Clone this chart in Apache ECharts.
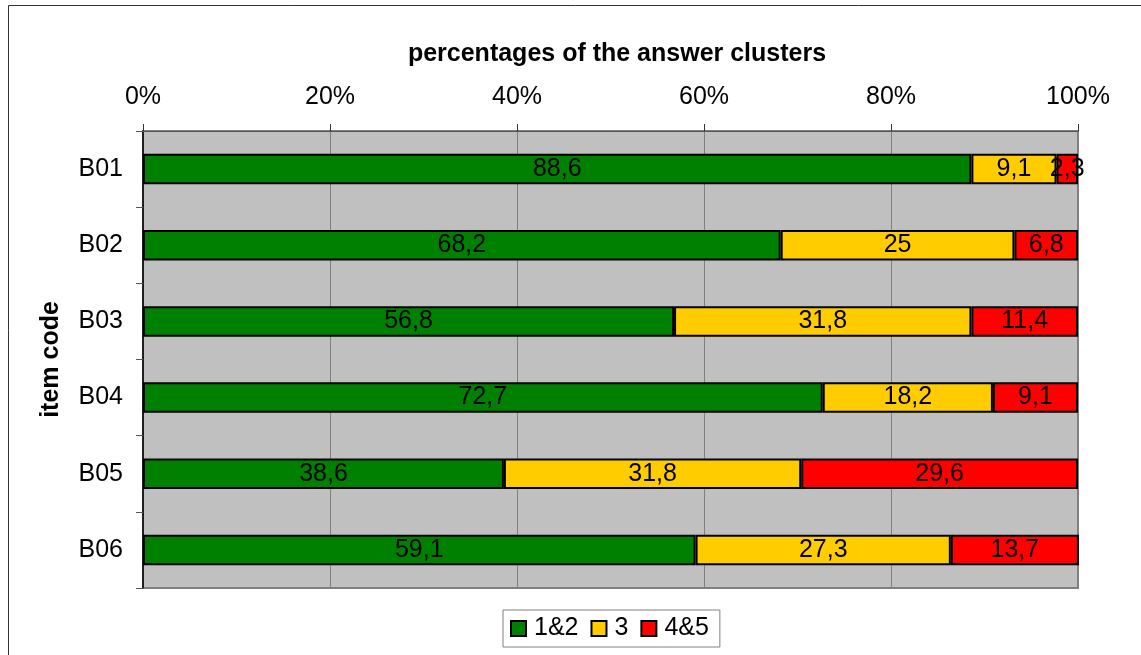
<!DOCTYPE html>
<html>
<head>
<meta charset="utf-8">
<script src="https://cdn.jsdelivr.net/npm/echarts@6/dist/echarts.min.js"></script>
<style>
  html, body { margin: 0; padding: 0; background: #fff; }
  #chart { width: 1141px; height: 655px; }
</style>
</head>
<body>
<div id="chart"></div>
<script>
// Item codes, top to bottom
const items = ['B01', 'B02', 'B03', 'B04', 'B05', 'B06'];
// Share of each answer cluster per item (%)
const cluster12 = [88.6, 68.2, 56.8, 72.7, 38.6, 59.1];
const cluster3 = [9.1, 25, 31.8, 18.2, 31.8, 27.3];
const cluster45 = [2.3, 6.8, 11.4, 9.1, 29.6, 13.7];
const seriesNames = ['1&2', '3', '4&5'];
const xTicks = [0, 20, 40, 60, 80, 100];

const FONT = '"Liberation Sans", Arial, sans-serif';

function decimalComma(v) {
  return String(v).replace('.', ',');
}

function barSeries(name, data, color) {
  return {
    name: name,
    type: 'bar',
    stack: 'total',
    barWidth: '40%',
    data: data,
    itemStyle: { color: color, borderColor: '#000', borderWidth: 2 },
    label: {
      show: true,
      position: 'inside',
      color: '#000',
      fontFamily: FONT,
      fontSize: 25,
      formatter: p => decimalComma(p.value)
    },
    emphasis: { disabled: true }
  };
}

const chart = echarts.init(document.getElementById('chart'));
chart.setOption({
  animation: false,
  backgroundColor: '#fff',
  textStyle: { fontFamily: FONT },
  graphic: [{
    type: 'rect',
    shape: { x: 8.5, y: 5.5, width: 1160, height: 700 },
    style: { fill: 'none', stroke: '#333', lineWidth: 1 },
    z: -1
  }],
  title: {
    text: 'percentages of the answer clusters',
    left: 612,
    textAlign: 'center',
    top: 37,
    textStyle: { fontFamily: FONT, fontSize: 25, fontWeight: 'bold', color: '#000' }
  },
  legend: {
    data: seriesNames,
    left: 503,
    top: 610,
    orient: 'horizontal',
    itemWidth: 15,
    itemHeight: 15,
    itemGap: 12,
    icon: 'rect',
    padding: [6, 11, 6, 7],
    borderColor: '#808080',
    borderWidth: 1,
    itemStyle: { borderColor: '#000', borderWidth: 2 },
    textStyle: { fontFamily: FONT, fontSize: 25, color: '#000', padding: [0, 0, 0, 3] }
  },
  grid: {
    left: 143,
    top: 131,
    width: 935,
    height: 457,
    show: true,
    backgroundColor: '#c0c0c0',
    borderColor: '#808080',
    borderWidth: 2,
    containLabel: false
  },
  xAxis: {
    type: 'value',
    position: 'top',
    min: 0,
    max: 100,
    interval: 20,
    axisLine: { show: true, lineStyle: { color: '#555', width: 1 } },
    axisTick: { show: true, length: 7, inside: false, lineStyle: { color: '#333' } },
    splitLine: { show: true, lineStyle: { color: '#808080', width: 1 } },
    axisLabel: {
      margin: 21,
      fontFamily: FONT,
      fontSize: 25,
      color: '#000',
      formatter: v => xTicks.includes(v) ? v + '%' : ''
    }
  },
  yAxis: {
    type: 'category',
    inverse: true,
    data: items,
    name: 'item code',
    nameLocation: 'middle',
    nameRotate: 90,
    nameGap: 79,
    nameTextStyle: { fontFamily: FONT, fontSize: 25, fontWeight: 'bold', color: '#000' },
    axisLine: { show: true, lineStyle: { color: '#000', width: 1.5 } },
    axisTick: { show: true, length: 7, alignWithLabel: false, lineStyle: { color: '#555' } },
    axisLabel: { margin: 20, fontFamily: FONT, fontSize: 25, color: '#000' }
  },
  series: [
    barSeries(seriesNames[0], cluster12, '#008000'),
    barSeries(seriesNames[1], cluster3, '#ffcc00'),
    barSeries(seriesNames[2], cluster45, '#ff0000')
  ]
});
</script>
</body>
</html>
